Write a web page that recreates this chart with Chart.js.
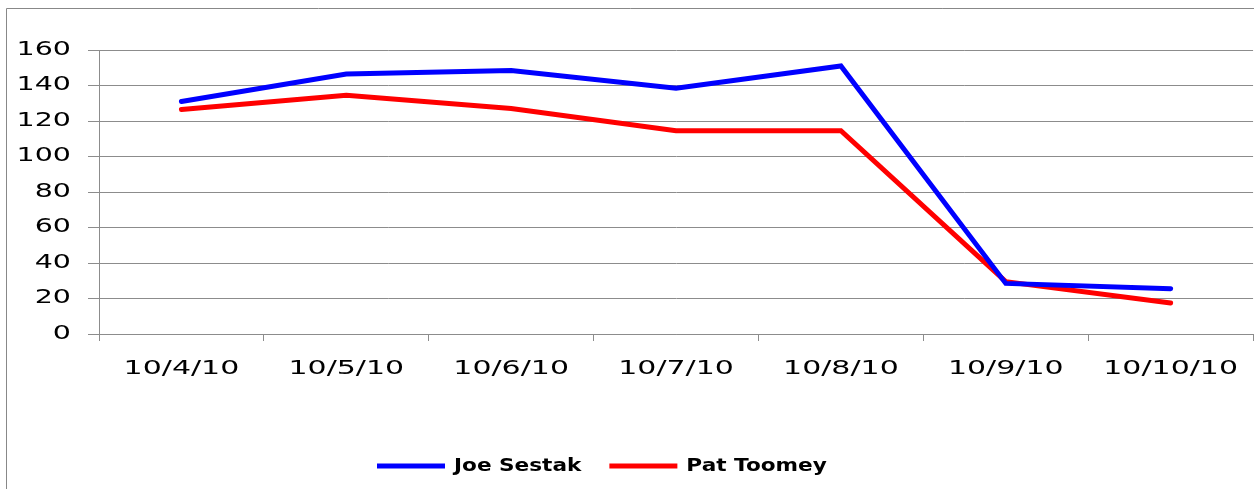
<!DOCTYPE html>
<html>
<head>
<meta charset="utf-8">
<script src="https://cdn.jsdelivr.net/npm/chart.js@4/dist/chart.umd.min.js"></script>
<style>
html,body{margin:0;padding:0;background:#fff;}
#wrap{width:1254px;height:489px;position:relative;}
</style>
</head>
<body>
<div id="wrap"><canvas id="c" width="1254" height="489"></canvas></div>
<script>
const categories = ['10/4/10','10/5/10','10/6/10','10/7/10','10/8/10','10/9/10','10/10/10'];
const joeSestak = [131, 146.5, 148.5, 138.5, 151, 28.5, 25.5];
const patToomey = [126.5, 134.5, 127, 114.5, 114.5, 29.5, 17.5];
const yTicks = [0, 20, 40, 60, 80, 100, 120, 140, 160];

const TICK_STRETCH = 1.5;
const LEGEND_STRETCH = 1.2;
let stretch = TICK_STRETCH;

const canvas = document.getElementById('c');
const ctx2d = canvas.getContext('2d');
const origFill = ctx2d.fillText.bind(ctx2d);
const origMeasure = ctx2d.measureText.bind(ctx2d);
ctx2d.fillText = function(t, x, y, mw){
  ctx2d.save();
  ctx2d.translate(x, y);
  ctx2d.scale(stretch, 1);
  if (mw !== undefined) origFill(t, 0, 0, mw / stretch); else origFill(t, 0, 0);
  ctx2d.restore();
};
ctx2d.measureText = function(t){
  const m = origMeasure(t);
  return {
    width: m.width * stretch,
    actualBoundingBoxAscent: m.actualBoundingBoxAscent,
    actualBoundingBoxDescent: m.actualBoundingBoxDescent,
    actualBoundingBoxLeft: m.actualBoundingBoxLeft * stretch,
    actualBoundingBoxRight: m.actualBoundingBoxRight * stretch,
    fontBoundingBoxAscent: m.fontBoundingBoxAscent,
    fontBoundingBoxDescent: m.fontBoundingBoxDescent
  };
};

const framePlugin = {
  id: 'frame',
  beforeDraw(chart){
    const ctx = chart.ctx;
    ctx.save();
    ctx.strokeStyle = '#888888';
    ctx.lineWidth = 1;
    ctx.beginPath();
    ctx.moveTo(6.5, 600);
    ctx.lineTo(6.5, 8.5);
    ctx.lineTo(1300, 8.5);
    ctx.stroke();
    ctx.restore();
  },
  afterInit(chart){
    const lg = chart.legend;
    if (!lg || lg._wrapped) return;
    lg._wrapped = true;
    const fit = lg.fit.bind(lg);
    lg.fit = function(){
      stretch = LEGEND_STRETCH;
      fit();
      stretch = TICK_STRETCH;
    };
    const draw = lg.draw.bind(lg);
    lg.draw = function(a){
      stretch = LEGEND_STRETCH;
      let shift = 0;
      if (lg.lineWidths && lg.lineWidths.length) {
        const pad = lg.options.labels.padding;
        const start = (lg.left + pad + lg.right - lg.lineWidths[0]) / 2;
        shift = 377 - start;
      }
      lg.left += shift; lg.right += shift;
      draw(a);
      lg.left -= shift; lg.right -= shift;
      stretch = TICK_STRETCH;
    };
  }
};

const FONT = '"DejaVu Sans", Verdana, sans-serif';

new Chart(canvas, {
  type: 'line',
  data: {
    labels: categories,
    datasets: [
      { label: 'Joe Sestak', data: joeSestak, borderColor: '#0000ff', backgroundColor: '#0000ff',
        borderWidth: 5, pointRadius: 0, tension: 0, borderCapStyle: 'round', borderJoinStyle: 'miter' },
      { label: 'Pat Toomey', data: patToomey, borderColor: '#ff0000', backgroundColor: '#ff0000',
        borderWidth: 5, pointRadius: 0, tension: 0, borderCapStyle: 'round', borderJoinStyle: 'miter' }
    ]
  },
  options: {
    responsive: false,
    animation: false,
    events: [],
    layout: { padding: { top: 50, left: 0, right: 0, bottom: 4 } },
    plugins: {
      tooltip: { enabled: false },
      legend: {
        position: 'bottom',
        labels: {
          usePointStyle: true,
          pointStyle: 'line',
          pointStyleWidth: 68,
          padding: 28,
          color: '#000',
          font: { family: FONT, size: 18, weight: 'bold' }
        }
      }
    },
    scales: {
      x: {
        offset: true,
        grid: { offset: true, drawOnChartArea: false, drawTicks: true, tickLength: 7, color: '#8c8c8c' },
        border: { display: true, color: '#8c8c8c' },
        ticks: { color: '#000', padding: 16, maxRotation: 0, autoSkip: false,
          font: { family: FONT, size: 20 } },
        afterFit(scale){ scale.height = 95; }
      },
      y: {
        min: 0, max: 160,
        afterBuildTicks(scale){ scale.ticks = yTicks.map(v => ({ value: v })); },
        grid: { color: '#8c8c8c', tickLength: 11, drawTicks: true },
        border: { display: true, color: '#8c8c8c' },
        ticks: { color: '#000', padding: 17,
          font: { family: FONT, size: 19 } },
        afterFit(scale){ scale.width = 99; }
      }
    }
  },
  plugins: [framePlugin]
});
</script>
</body>
</html>
